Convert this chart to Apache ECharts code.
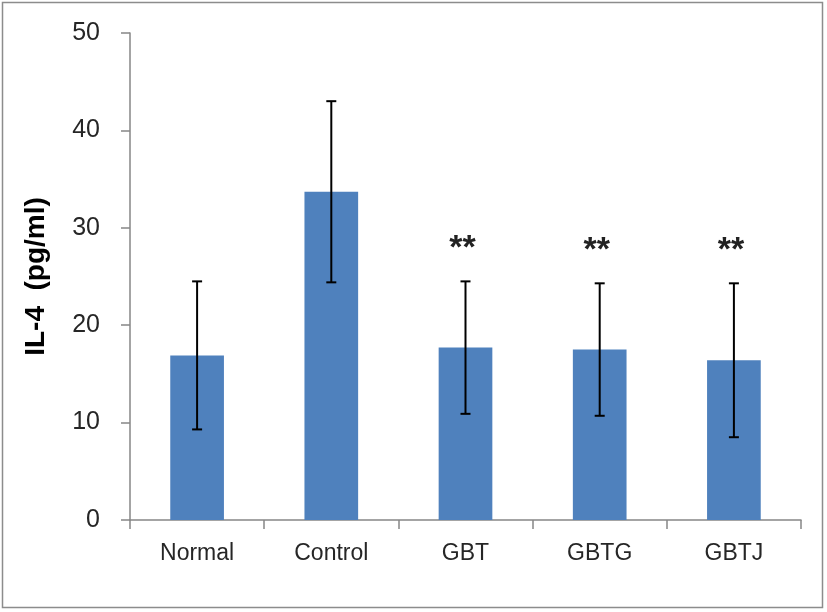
<!DOCTYPE html>
<html><head><meta charset="utf-8">
<script src="https://cdn.jsdelivr.net/npm/echarts@6/dist/echarts.min.js"></script>
<style>html,body{margin:0;padding:0;background:#fff}#c{width:827px;height:612px}</style>
</head><body><div id="c"></div>
<script>
const categories = ['Normal', 'Control', 'GBT', 'GBTG', 'GBTJ'];
const means = [16.9, 33.7, 17.7, 17.5, 16.4];
const errors = [7.6, 9.3, 6.8, 6.8, 7.9];
const marks = ['', '', '**', '**', '**'];
const yTicks = [0, 10, 20, 30, 40, 50];

const chart = echarts.init(document.getElementById('c'), null, {renderer: 'canvas'});
const font = 'Liberation Sans';
const errData = categories.map((c, i) => [i, means[i] - errors[i], means[i] + errors[i], marks[i]]);

chart.setOption({
  animation: false,
  backgroundColor: '#fff',
  graphic: [{type: 'rect', shape: {x: 2.5, y: 2.5, width: 820, height: 605}, style: {fill: 'none', stroke: '#8c8c8c', lineWidth: 1.5}}],
  grid: {left: 130, right: 26, top: 33, bottom: 92},
  xAxis: {
    type: 'category', data: categories,
    axisLine: {lineStyle: {color: '#868686', width: 1.5}},
    axisTick: {show: true, length: 9, lineStyle: {color: '#868686', width: 1.5}},
    axisLabel: {color: '#262626', fontFamily: font, fontSize: 23, margin: 22}
  },
  yAxis: {
    type: 'value', min: yTicks[0], max: yTicks[yTicks.length - 1], interval: 10,
    name: 'IL-4  (pg/ml)', nameLocation: 'middle', nameGap: 80,
    nameTextStyle: {color: '#000', fontFamily: font, fontSize: 28, fontWeight: 'bold'},
    splitLine: {show: false},
    axisLine: {show: true, lineStyle: {color: '#868686', width: 1.5}},
    axisTick: {show: true, length: 9, lineStyle: {color: '#868686', width: 1.5}},
    axisLabel: {color: '#262626', fontFamily: font, fontSize: 25, margin: 30}
  },
  series: [
    {type: 'bar', data: means, barWidth: '40%', itemStyle: {color: '#4F81BD'}},
    {
      type: 'custom', data: errData, z: 10,
      renderItem: function (params, api) {
        const x = api.coord([api.value(0), 0])[0];
        const lo = api.coord([api.value(0), api.value(1)])[1];
        const hi = api.coord([api.value(0), api.value(2)])[1];
        const cw = 5;
        const st = {stroke: '#000', lineWidth: 2};
        const children = [
          {type: 'line', shape: {x1: x, y1: lo, x2: x, y2: hi}, style: st},
          {type: 'line', shape: {x1: x - cw, y1: lo, x2: x + cw, y2: lo}, style: st},
          {type: 'line', shape: {x1: x - cw, y1: hi, x2: x + cw, y2: hi}, style: st}
        ];
        const m = marks[params.dataIndex];
        if (m) {
          children.push({type: 'text', style: {text: m, x: x - 3, y: hi - 33, fill: '#222', font: 'bold 34px ' + font, align: 'center', verticalAlign: 'middle'}});
        }
        return {type: 'group', children: children};
      }
    }
  ]
});
</script></body></html>
